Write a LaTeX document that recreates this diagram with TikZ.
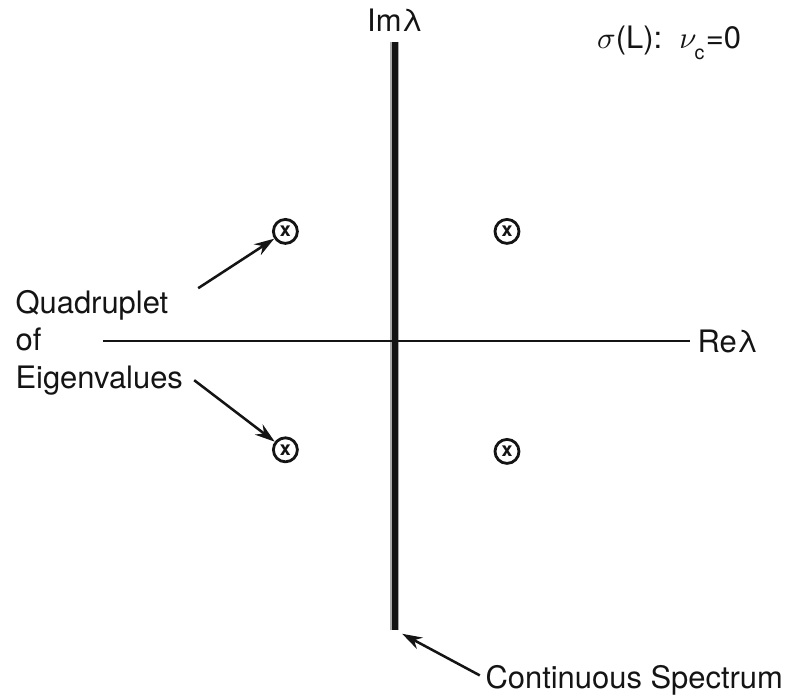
\documentclass[tikz,border=0pt]{standalone}
\usepackage{fontspec}
\setmainfont{TeX Gyre Heros}
\usepackage{tikz}
\usetikzlibrary{arrows.meta}
\definecolor{SPink}{RGB}{20,20,20}
\definecolor{SPhalo}{RGB}{170,170,170}
\tikzset{
  eigen/.style={circle,draw=SPink,line width=1pt,minimum size=0.3cm,inner sep=0pt,
                font=\fontsize{7}{7}\selectfont\bfseries,text=SPink},
  axis/.style={draw=SPink,line width=0.8pt},
  spec/.style={draw=SPink,line width=1.8pt},
  halo/.style={draw=SPhalo,line width=3.2pt},
  ptr/.style={-{Stealth[length=2.5mm,width=1.6mm]},line width=0.9pt,draw=SPink},
  lbl/.style={font=\fontsize{11}{13.4}\selectfont,text=SPink,inner sep=0pt}
}
\begin{document}
\begin{tikzpicture}
  \useasboundingbox (-4.9375,-4.475) rectangle (5.0125,4.2625);
  % axes
  \coordinate (top) at (0,3.7375);
  \coordinate (bot) at (0,-3.6125);
  \coordinate (left) at (-3.65,0);
  \coordinate (right) at (3.6875,0);
  \draw[halo] (top) -- (bot);
  \draw[axis] (left) -- (right);
  \draw[spec] (top) -- (bot);
  \fill[SPink] (0,0) circle (0.04);
  \node[lbl] (im) at (0,4.01) {Imλ};
  \node[lbl,anchor=west] (re) at (3.775,0) {Reλ};
  \node[lbl,anchor=west] (sig) at (2.52,3.725) {$\sigma$(L):\ \ $\nu_{\raisebox{-0.4ex}{\scriptsize c}}$=0};
  % quadruplet
  \node[eigen] (q1) at (-1.37,1.37) {x};
  \node[eigen] (q2) at (1.40,1.37) {x};
  \node[eigen] (q3) at (-1.37,-1.36) {x};
  \node[eigen] (q4) at (1.40,-1.38) {x};
  \node[lbl,anchor=west,align=left] (quad) at (-4.75,-0.02) {Quadruplet\\of\\Eigenvalues};
  \coordinate (t1) at (-2.46,0.66);
  \coordinate (t2) at (-2.51,-0.49);
  \draw[ptr] (t1) -- (q1);
  \draw[ptr] (t2) -- (q3);
  % continuous spectrum
  \node[lbl,anchor=west] (cont) at (1.125,-4.24) {Continuous Spectrum};
  \coordinate (t3) at (1.06,-4.18);
  \coordinate (tip) at (0.09,-3.66);
  \draw[ptr] (t3) -- (tip);
\end{tikzpicture}
\end{document}
